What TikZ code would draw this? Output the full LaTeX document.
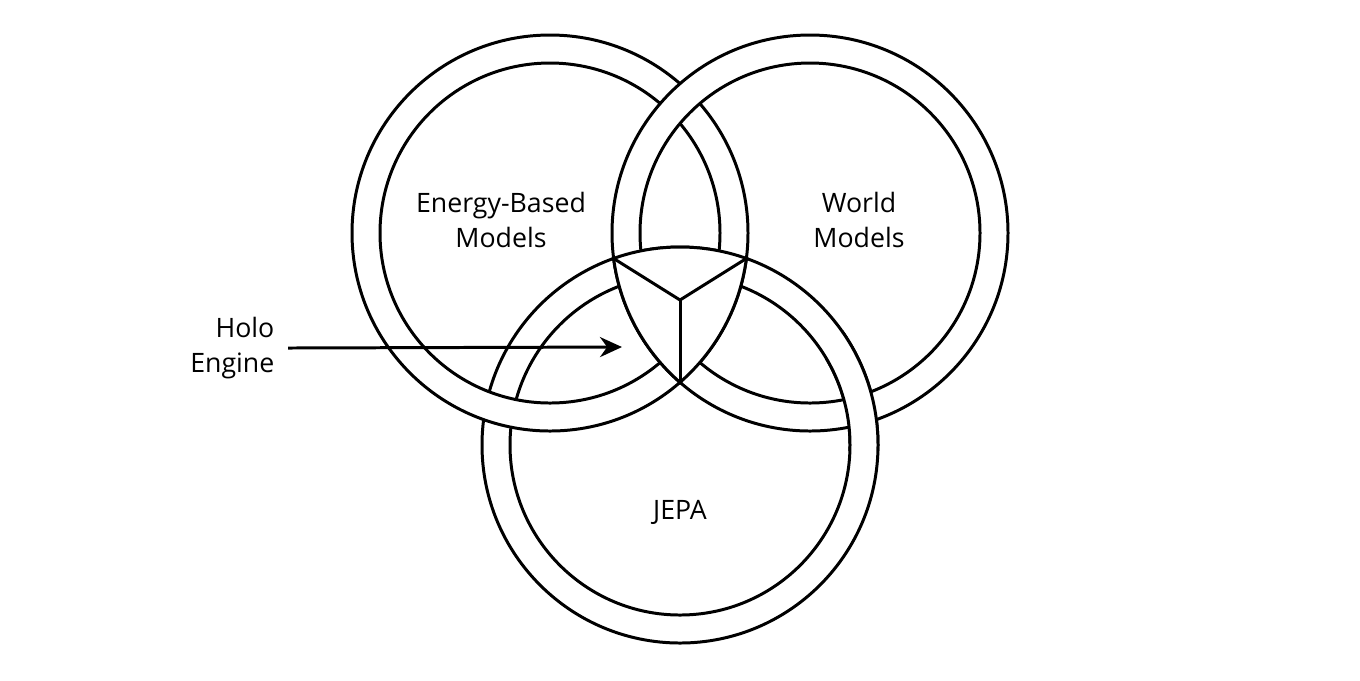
\documentclass[tikz,border=0pt]{standalone}
\usepackage{fontspec}
\setmainfont{Open Sans}
\usetikzlibrary{arrows.meta}
\usetikzlibrary{calc}

\begin{document}
\begin{tikzpicture}
        % ================= styles =================
        \tikzset{
            % ring (white band between two circles)
            ring/.style={draw=black, line width=0.85pt, fill=white, even odd rule},
            % plain line
            line/.style={draw=black, line width=0.85pt},
            % label
            label/.style={align=center, font=\fontsize{7.6}{10}\selectfont, inner sep=0pt},
            % pointer arrow
            pointer/.style={line width=0.85pt, -{Stealth[length=2.2mm, width=2mm]}}
        }
        \useasboundingbox (0,0) rectangle (13.6,-6.8);

        % ================= centres =================
        \coordinate (cE) at (5.50, -2.33);
        \coordinate (cW) at (8.10, -2.33);
        \coordinate (cJ) at (6.80, -4.45);
        \def\rout{1.98}
        \def\rin{1.70}

        % ================= rings (woven order) =================
        \path[ring] (cJ) circle (\rout) (cJ) circle (\rin);
        \path[ring] (cE) circle (\rout) (cE) circle (\rin);
        \path[ring] (cW) circle (\rout) (cW) circle (\rin);
        % JEPA passes over World Models at the lower right
        \begin{scope}
            \clip (8.25, -3.30) rectangle (9.10, -4.50);
            \path[ring] (cJ) circle (\rout) (cJ) circle (\rin);
        \end{scope}

        % ================= centre piece =================
        \begin{scope}
            \clip (cE) circle (\rout);
            \clip (cW) circle (\rout);
            \clip (cJ) circle (\rout);
            \fill[white] (4,0) rectangle (10,-6);
        \end{scope}
        \begin{scope}
            \clip (cW) circle (\rout+0.02);
            \clip (cJ) circle (\rout+0.02);
            \draw[line] (cE) circle (\rout);
        \end{scope}
        \begin{scope}
            \clip (cE) circle (\rout+0.02);
            \clip (cJ) circle (\rout+0.02);
            \draw[line] (cW) circle (\rout);
        \end{scope}
        \begin{scope}
            \clip (cE) circle (\rout+0.02);
            \clip (cW) circle (\rout+0.02);
            \draw[line] (cJ) circle (\rout);
        \end{scope}
        \coordinate (core) at (6.80, -3.00);
        \coordinate (vL) at (6.137, -2.585);
        \coordinate (vR) at (7.463, -2.585);
        \coordinate (vB) at (6.80, -3.823);
        \draw[line] (core) -- (vL);
        \draw[line] (core) -- (vR);
        \draw[line] (core) -- (vB);

        % ================= labels =================
        \node[label] (ebm) at (5.01, -2.20) {Energy-Based\\Models};
        \node[label] (wm) at (8.59, -2.20) {World\\Models};
        \node[label] (jepa) at (6.80, -5.12) {JEPA};
        \node[label, align=right, anchor=east] (holo) at (2.75, -3.48) {Holo\\Engine};
        \coordinate (holoTip) at (6.22, -3.47);

        \draw[pointer] (holo.east) ++(0.13,0) -- (holoTip);

\end{tikzpicture}
\end{document}
